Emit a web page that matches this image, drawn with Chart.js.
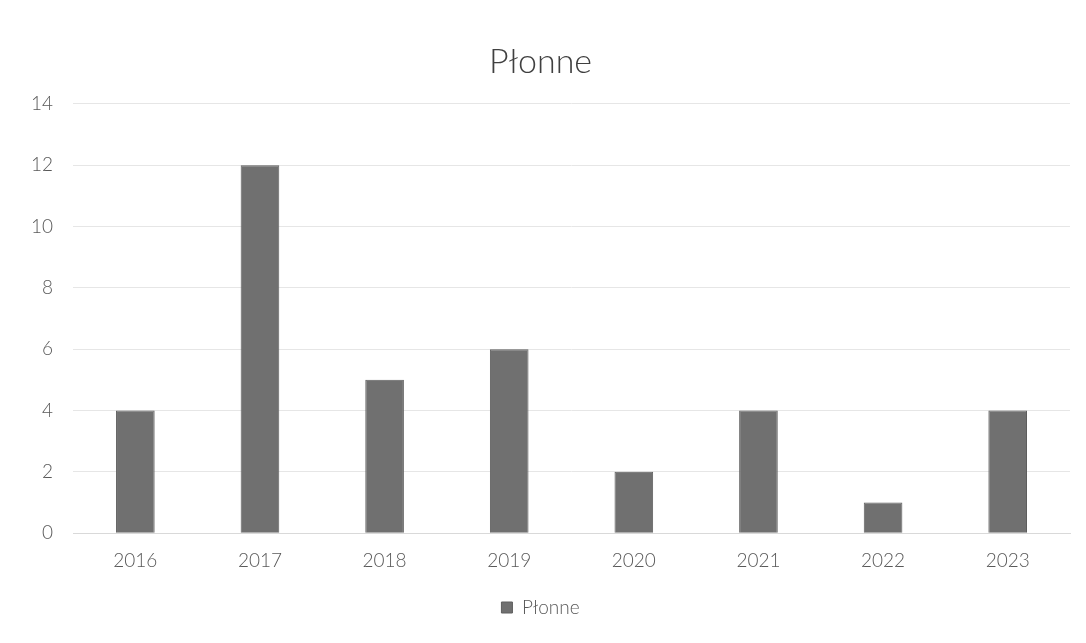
<!DOCTYPE html>
<html>
<head>
<meta charset="utf-8">
<script src="https://cdn.jsdelivr.net/npm/chart.js@4/dist/chart.umd.min.js"></script>
<style>
  html, body { margin: 0; padding: 0; background: #fff; }
  #wrap { width: 1086px; height: 643px; position: relative; }
</style>
</head>
<body>
<div id="wrap"><canvas id="c" width="1086" height="643"></canvas></div>
<script>
// Yearly counts of fires in Płonne
const years = ['2016', '2017', '2018', '2019', '2020', '2021', '2022', '2023'];
const seriesName = 'Płonne';
const fires = [4, 12, 5, 6, 2, 4, 1, 4];
const yTicks = [0, 2, 4, 6, 8, 10, 12, 14];

const fontFamily = "'Lato', 'Open Sans', sans-serif";
const textColor = '#595959';
const barColor = '#707070';

new Chart(document.getElementById('c'), {
  type: 'bar',
  data: {
    labels: years,
    datasets: [{
      label: seriesName,
      data: fires,
      backgroundColor: barColor,
      borderColor: '#5e5e5e',
      borderWidth: 1,
      categoryPercentage: 1.0,
      barPercentage: 0.31
    }]
  },
  options: {
    responsive: false,
    animation: false,
    layout: { padding: { left: 11, right: 16, top: 30, bottom: 16 } },
    plugins: {
      title: {
        display: true,
        text: seriesName,
        color: '#404040',
        font: { family: fontFamily, size: 34, weight: 300 },
        padding: { top: 12, bottom: 21 }
      },
      legend: {
        position: 'bottom',
        labels: {
          color: textColor,
          font: { family: fontFamily, size: 19, weight: 300 },
          boxWidth: 11,
          boxHeight: 11,
          padding: 18
        }
      },
      tooltip: { enabled: false }
    },
    scales: {
      x: {
        grid: { display: false },
        border: { display: true, color: '#d9d9d9' },
        ticks: { color: textColor, font: { family: fontFamily, size: 19, weight: 300 }, padding: 8 }
      },
      y: {
        min: yTicks[0],
        max: yTicks[yTicks.length - 1],
        afterBuildTicks: (axis) => { axis.ticks = yTicks.map(v => ({ value: v })); },
        grid: { color: '#e6e6e6', drawTicks: false },
        border: { display: false },
        ticks: { color: textColor, font: { family: fontFamily, size: 19, weight: 300 }, padding: 20 }
      }
    }
  }
});
</script>
</body>
</html>
